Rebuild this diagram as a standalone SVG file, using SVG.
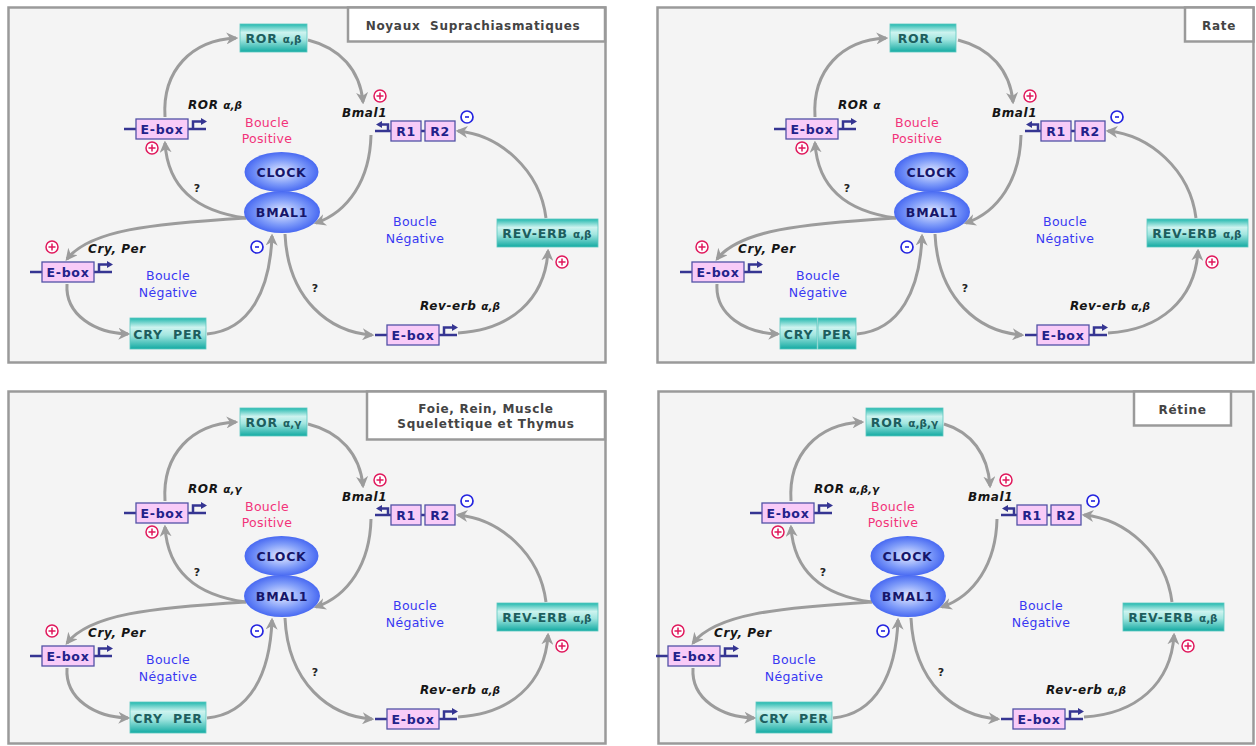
<svg xmlns="http://www.w3.org/2000/svg" xmlns:xlink="http://www.w3.org/1999/xlink" width="1256" height="746" viewBox="0 0 1256 746">
<style>
.frame{fill:#f4f4f4;stroke:#9a9a9a;stroke-width:2.5}
.tbox{fill:#ffffff;stroke:#9a9a9a;stroke-width:2.5}
.ttl{font-family:"DejaVu Sans",Verdana,sans-serif;font-weight:bold;font-size:12px;fill:#444;text-anchor:middle;letter-spacing:0.7px}
.teal{fill:url(#tealG);stroke:#5cc8c0;stroke-width:0.8}
.tt{font-family:"DejaVu Sans",Verdana,sans-serif;font-weight:bold;font-size:12.5px;fill:#1d5e5e;text-anchor:middle;letter-spacing:0.8px}
.eb{fill:#f8cbf8;stroke:#5252a6;stroke-width:1.3}
.gl{stroke:#353592;stroke-width:2.5;fill:none}
.et{font-family:"DejaVu Sans",Verdana,sans-serif;font-weight:bold;font-size:12.5px;fill:#22228a;text-anchor:middle;letter-spacing:0.7px}
.ell{fill:url(#blueG)}
.ct{font-family:"DejaVu Sans",Verdana,sans-serif;font-weight:bold;font-size:12.5px;fill:#16166a;text-anchor:middle;letter-spacing:0.8px}
.lab{font-family:"DejaVu Sans",Verdana,sans-serif;font-weight:bold;font-style:italic;font-size:12px;fill:#151515;letter-spacing:0.6px}
.gk{font-size:10.5px;letter-spacing:0}
.bp{font-family:"DejaVu Sans",Verdana,sans-serif;font-size:12.5px;fill:#f2337a;text-anchor:middle;letter-spacing:0.3px}
.bn{font-family:"DejaVu Sans",Verdana,sans-serif;font-size:12.5px;fill:#3838f2;text-anchor:middle;letter-spacing:0.3px}
.q{font-family:"DejaVu Sans",Verdana,sans-serif;font-weight:bold;font-size:11px;fill:#222;text-anchor:middle}
.arr{fill:none;stroke:#9c9c9c;stroke-width:3;marker-end:url(#ah)}
</style>
<defs>
<linearGradient id="tealG" x1="0" y1="0" x2="0" y2="1">
<stop offset="0" stop-color="#22b8ae"/>
<stop offset="0.3" stop-color="#cdf3ef"/>
<stop offset="0.55" stop-color="#a2e6e0"/>
<stop offset="1" stop-color="#13aaa2"/>
</linearGradient>
<radialGradient id="blueG" cx="0.5" cy="0.5" r="0.55">
<stop offset="0" stop-color="#e4eaff"/>
<stop offset="0.55" stop-color="#7f9cf9"/>
<stop offset="1" stop-color="#3a5cf0"/>
</radialGradient>
<marker id="ah" markerWidth="12" markerHeight="12" refX="8" refY="5" orient="auto" markerUnits="userSpaceOnUse" viewBox="0 0 10 10">
<path d="M0,0 L10,5 L0,10 L3,5 z" fill="#9c9c9c"/>
</marker>
<g id="ebox">
<line class="gl" x1="-12" y1="10" x2="0" y2="10"/>
<line class="gl" x1="52" y1="10" x2="70" y2="10"/>
<polyline class="gl" points="57,10 57,2.5 66,2.5"/>
<path d="M65,-1 L71,2.5 L65,6 z" fill="#353592"/>
<rect class="eb" x="0" y="0" width="52" height="20"/>
</g>
<g id="plus">
<circle cx="0" cy="0" r="6" fill="#fff" stroke="#e0185c" stroke-width="1.5"/>
<path d="M-3.5,0 H3.5 M0,-3.5 V3.5" stroke="#e0185c" stroke-width="1.5"/>
</g>
<g id="minus">
<circle cx="0" cy="0" r="6" fill="#fff" stroke="#2424e0" stroke-width="1.7"/>
<path d="M-2,0 H2" stroke="#2424e0" stroke-width="1.6"/>
</g>
</defs>
<rect x="0" y="0" width="1256" height="746" fill="#ffffff"/>
<g id="frames">
<rect class="frame" x="8.5" y="7.5" width="597" height="355"/>
<rect class="frame" x="657.5" y="7.5" width="596" height="355"/>
<rect class="frame" x="8.5" y="391.5" width="597" height="352"/>
<rect class="frame" x="658.5" y="391.5" width="595" height="352"/>
</g>

<!-- PANEL 1 -->
<g id="panel1">
<g id="p1-connectors">
<path class="arr" d="M165,117 C162,70 192,40 236,38"/>
<path class="arr" d="M308,40 C340,48 360,70 363,102"/>
<path class="arr" d="M371,135 C370,180 348,212 316,223"/>
<path class="arr" d="M246,218 C200,212 168,190 165,143"/>
<path class="arr" d="M246,218 C150,224 90,230 67,259"/>
<path class="arr" d="M67,284 C65,315 95,333 128,334"/>
<path class="arr" d="M207,334 C250,330 270,290 272,236"/>
<path class="arr" d="M285,234 C288,300 330,332 372,335"/>
<path class="arr" d="M458,333 C510,330 545,300 548,251"/>
<path class="arr" d="M546,218 C540,170 500,135 458,131"/>
</g>
<g id="p1-title"><rect class="tbox" x="348" y="7.5" width="257" height="34"/><text class="ttl" x="473" y="30">Noyaux&#160; Suprachiasmatiques</text></g>
<g id="p1-ror"><rect class="teal" x="240" y="24" width="67" height="28"/><text class="tt" x="273.5" y="42.5">ROR <tspan class="gk">α,β</tspan></text></g>
<g id="p1-ebox-ror"><use xlink:href="#ebox" x="136" y="119"/><text class="et" x="162" y="133.5">E-box</text></g>
<g id="p1-ebox-cry"><use xlink:href="#ebox" x="42" y="262"/><text class="et" x="68" y="276.5">E-box</text></g>
<g id="p1-ebox-rev"><use xlink:href="#ebox" x="387" y="325"/><text class="et" x="413" y="339.5">E-box</text></g>
<g id="p1-r1r2">
<line class="gl" x1="375" y1="131" x2="391" y2="131"/>
<polyline class="gl" points="388,131 388,124.5 381,124.5"/>
<path d="M382,121 L376,124.5 L382,128 z" fill="#353592"/>
<line class="gl" x1="421" y1="131" x2="425" y2="131"/>
<rect class="eb" x="391" y="121" width="30" height="20"/><text class="et" x="406" y="135.5">R1</text>
<rect class="eb" x="425" y="121" width="30" height="20"/><text class="et" x="440" y="135.5">R2</text>
</g>
<g id="p1-clock"><ellipse class="ell" cx="281.5" cy="172" rx="37" ry="20"/><text class="ct" x="281.5" y="176.5">CLOCK</text></g>
<g id="p1-bmal1"><ellipse class="ell" cx="282" cy="212" rx="38" ry="21"/><text class="ct" x="282" y="216.5">BMAL1</text></g>
<g id="p1-cryper"><rect class="teal" x="130" y="318" width="76" height="31"/><text class="tt" x="168" y="338.5">CRY&#160; PER</text></g>
<g id="p1-reverb"><rect class="teal" x="497" y="219" width="101" height="28"/><text class="tt" x="547" y="237.5">REV-ERB <tspan class="gk">α,β</tspan></text></g>
<g id="p1-labels">
<text class="lab" x="188" y="109">ROR <tspan class="gk">α,β</tspan></text>
<text class="lab" x="342" y="117">Bmal1</text>
<text class="lab" x="88" y="253">Cry, Per</text>
<text class="lab" x="420" y="310">Rev-erb <tspan class="gk">α,β</tspan></text>
<text class="bp" x="267" y="127">Boucle</text><text class="bp" x="267" y="143">Positive</text>
<text class="bn" x="168" y="280">Boucle</text><text class="bn" x="168" y="297">Négative</text>
<text class="bn" x="415" y="226">Boucle</text><text class="bn" x="415" y="243">Négative</text>
<text class="q" x="197" y="192">?</text>
<text class="q" x="315" y="292">?</text>
</g>
<g id="p1-signs">
<use xlink:href="#plus" x="152" y="148"/>
<use xlink:href="#plus" x="380" y="96"/>
<use xlink:href="#plus" x="52" y="247"/>
<use xlink:href="#plus" x="562" y="262"/>
<use xlink:href="#minus" x="467" y="117"/>
<use xlink:href="#minus" x="257" y="247"/>
</g>
</g>

<!-- PANEL 2 -->
<g id="panel2" transform="translate(650,0)">
<g id="p2-connectors">
<path class="arr" d="M165,117 C162,70 192,40 236,38"/>
<path class="arr" d="M308,40 C340,48 360,70 363,102"/>
<path class="arr" d="M371,135 C370,180 348,212 316,223"/>
<path class="arr" d="M246,218 C200,212 168,190 165,143"/>
<path class="arr" d="M246,218 C150,224 90,230 67,259"/>
<path class="arr" d="M67,284 C65,315 95,333 128,334"/>
<path class="arr" d="M207,334 C250,330 270,290 272,236"/>
<path class="arr" d="M285,234 C288,300 330,332 372,335"/>
<path class="arr" d="M458,333 C510,330 545,300 548,251"/>
<path class="arr" d="M546,218 C540,170 500,135 458,131"/>
</g>
<g id="p2-title"><rect class="tbox" x="535" y="7.5" width="68.5" height="34"/><text class="ttl" x="569" y="29.5">Rate</text></g>
<g id="p2-ror"><rect class="teal" x="240" y="24" width="66" height="28"/><text class="tt" x="270" y="42.5">ROR <tspan class="gk">α</tspan></text></g>
<g id="p2-ebox-ror"><use xlink:href="#ebox" x="136" y="119"/><text class="et" x="162" y="133.5">E-box</text></g>
<g id="p2-ebox-cry"><use xlink:href="#ebox" x="42" y="262"/><text class="et" x="68" y="276.5">E-box</text></g>
<g id="p2-ebox-rev"><use xlink:href="#ebox" x="387" y="325"/><text class="et" x="413" y="339.5">E-box</text></g>
<g id="p2-r1r2">
<line class="gl" x1="375" y1="131" x2="391" y2="131"/>
<polyline class="gl" points="388,131 388,124.5 381,124.5"/>
<path d="M382,121 L376,124.5 L382,128 z" fill="#353592"/>
<line class="gl" x1="421" y1="131" x2="425" y2="131"/>
<rect class="eb" x="391" y="121" width="30" height="20"/><text class="et" x="406" y="135.5">R1</text>
<rect class="eb" x="425" y="121" width="30" height="20"/><text class="et" x="440" y="135.5">R2</text>
</g>
<g id="p2-clock"><ellipse class="ell" cx="281.5" cy="172" rx="37" ry="20"/><text class="ct" x="281.5" y="176.5">CLOCK</text></g>
<g id="p2-bmal1"><ellipse class="ell" cx="282" cy="212" rx="38" ry="21"/><text class="ct" x="282" y="216.5">BMAL1</text></g>
<g id="p2-cry"><rect class="teal" x="130" y="318" width="37" height="31"/><text class="tt" x="148.5" y="338.5">CRY</text></g>
<g id="p2-per"><rect class="teal" x="168" y="318" width="38" height="31"/><text class="tt" x="187" y="338.5">PER</text></g>
<g id="p2-reverb"><rect class="teal" x="497" y="219" width="101" height="28"/><text class="tt" x="547" y="237.5">REV-ERB <tspan class="gk">α,β</tspan></text></g>
<g id="p2-labels">
<text class="lab" x="188" y="109">ROR <tspan class="gk">α</tspan></text>
<text class="lab" x="342" y="117">Bmal1</text>
<text class="lab" x="88" y="253">Cry, Per</text>
<text class="lab" x="420" y="310">Rev-erb <tspan class="gk">α,β</tspan></text>
<text class="bp" x="267" y="127">Boucle</text><text class="bp" x="267" y="143">Positive</text>
<text class="bn" x="168" y="280">Boucle</text><text class="bn" x="168" y="297">Négative</text>
<text class="bn" x="415" y="226">Boucle</text><text class="bn" x="415" y="243">Négative</text>
<text class="q" x="197" y="192">?</text>
<text class="q" x="315" y="292">?</text>
</g>
<g id="p2-signs">
<use xlink:href="#plus" x="152" y="148"/>
<use xlink:href="#plus" x="380" y="96"/>
<use xlink:href="#plus" x="52" y="247"/>
<use xlink:href="#plus" x="562" y="262"/>
<use xlink:href="#minus" x="467" y="117"/>
<use xlink:href="#minus" x="257" y="247"/>
</g>
</g>

<!-- PANEL 3 -->
<g id="panel3" transform="translate(0,384)">
<g id="p3-connectors">
<path class="arr" d="M165,117 C162,70 192,40 236,38"/>
<path class="arr" d="M308,40 C340,48 360,70 363,102"/>
<path class="arr" d="M371,135 C370,180 348,212 316,223"/>
<path class="arr" d="M246,218 C200,212 168,190 165,143"/>
<path class="arr" d="M246,218 C150,224 90,230 67,259"/>
<path class="arr" d="M67,284 C65,315 95,333 128,334"/>
<path class="arr" d="M207,334 C250,330 270,290 272,236"/>
<path class="arr" d="M285,234 C288,300 330,332 372,335"/>
<path class="arr" d="M458,333 C510,330 545,300 548,251"/>
<path class="arr" d="M546,218 C540,170 500,135 458,131"/>
</g>
<g id="p3-title"><rect class="tbox" x="367" y="7.5" width="238" height="48"/><text class="ttl" x="486" y="29">Foie, Rein, Muscle</text><text class="ttl" x="486" y="44">Squelettique et Thymus</text></g>
<g id="p3-ror"><rect class="teal" x="240" y="24" width="67" height="28"/><text class="tt" x="273.5" y="42.5">ROR <tspan class="gk">α,γ</tspan></text></g>
<g id="p3-ebox-ror"><use xlink:href="#ebox" x="136" y="119"/><text class="et" x="162" y="133.5">E-box</text></g>
<g id="p3-ebox-cry"><use xlink:href="#ebox" x="42" y="262"/><text class="et" x="68" y="276.5">E-box</text></g>
<g id="p3-ebox-rev"><use xlink:href="#ebox" x="387" y="325"/><text class="et" x="413" y="339.5">E-box</text></g>
<g id="p3-r1r2">
<line class="gl" x1="375" y1="131" x2="391" y2="131"/>
<polyline class="gl" points="388,131 388,124.5 381,124.5"/>
<path d="M382,121 L376,124.5 L382,128 z" fill="#353592"/>
<line class="gl" x1="421" y1="131" x2="425" y2="131"/>
<rect class="eb" x="391" y="121" width="30" height="20"/><text class="et" x="406" y="135.5">R1</text>
<rect class="eb" x="425" y="121" width="30" height="20"/><text class="et" x="440" y="135.5">R2</text>
</g>
<g id="p3-clock"><ellipse class="ell" cx="281.5" cy="172" rx="37" ry="20"/><text class="ct" x="281.5" y="176.5">CLOCK</text></g>
<g id="p3-bmal1"><ellipse class="ell" cx="282" cy="212" rx="38" ry="21"/><text class="ct" x="282" y="216.5">BMAL1</text></g>
<g id="p3-cryper"><rect class="teal" x="130" y="318" width="76" height="31"/><text class="tt" x="168" y="338.5">CRY&#160; PER</text></g>
<g id="p3-reverb"><rect class="teal" x="497" y="219" width="101" height="28"/><text class="tt" x="547" y="237.5">REV-ERB <tspan class="gk">α,β</tspan></text></g>
<g id="p3-labels">
<text class="lab" x="188" y="109">ROR <tspan class="gk">α,γ</tspan></text>
<text class="lab" x="342" y="117">Bmal1</text>
<text class="lab" x="88" y="253">Cry, Per</text>
<text class="lab" x="420" y="310">Rev-erb <tspan class="gk">α,β</tspan></text>
<text class="bp" x="267" y="127">Boucle</text><text class="bp" x="267" y="143">Positive</text>
<text class="bn" x="168" y="280">Boucle</text><text class="bn" x="168" y="297">Négative</text>
<text class="bn" x="415" y="226">Boucle</text><text class="bn" x="415" y="243">Négative</text>
<text class="q" x="197" y="192">?</text>
<text class="q" x="315" y="292">?</text>
</g>
<g id="p3-signs">
<use xlink:href="#plus" x="152" y="148"/>
<use xlink:href="#plus" x="380" y="96"/>
<use xlink:href="#plus" x="52" y="247"/>
<use xlink:href="#plus" x="562" y="262"/>
<use xlink:href="#minus" x="467" y="117"/>
<use xlink:href="#minus" x="257" y="247"/>
</g>
</g>

<!-- PANEL 4 -->
<g id="panel4" transform="translate(626,384)">
<g id="p4-connectors">
<path class="arr" d="M165,117 C162,70 192,40 236,38"/>
<path class="arr" d="M318,40 C345,48 362,70 364,102"/>
<path class="arr" d="M371,135 C370,180 348,212 316,223"/>
<path class="arr" d="M246,218 C200,212 168,190 165,143"/>
<path class="arr" d="M246,218 C150,224 90,230 67,259"/>
<path class="arr" d="M67,284 C65,315 95,333 128,334"/>
<path class="arr" d="M207,334 C250,330 270,290 272,236"/>
<path class="arr" d="M285,234 C288,300 330,332 372,335"/>
<path class="arr" d="M458,333 C510,330 545,300 548,251"/>
<path class="arr" d="M546,218 C540,170 500,135 458,131"/>
</g>
<g id="p4-title"><rect class="tbox" x="508" y="7.5" width="97" height="34"/><text class="ttl" x="556.5" y="29.5">Rétine</text></g>
<g id="p4-ror"><rect class="teal" x="240" y="24" width="77" height="28"/><text class="tt" x="278.5" y="42.5">ROR <tspan class="gk">α,β,γ</tspan></text></g>
<g id="p4-ebox-ror"><use xlink:href="#ebox" x="136" y="119"/><text class="et" x="162" y="133.5">E-box</text></g>
<g id="p4-ebox-cry"><use xlink:href="#ebox" x="42" y="262"/><text class="et" x="68" y="276.5">E-box</text></g>
<g id="p4-ebox-rev"><use xlink:href="#ebox" x="387" y="325"/><text class="et" x="413" y="339.5">E-box</text></g>
<g id="p4-r1r2">
<line class="gl" x1="375" y1="131" x2="391" y2="131"/>
<polyline class="gl" points="388,131 388,124.5 381,124.5"/>
<path d="M382,121 L376,124.5 L382,128 z" fill="#353592"/>
<line class="gl" x1="421" y1="131" x2="425" y2="131"/>
<rect class="eb" x="391" y="121" width="30" height="20"/><text class="et" x="406" y="135.5">R1</text>
<rect class="eb" x="425" y="121" width="30" height="20"/><text class="et" x="440" y="135.5">R2</text>
</g>
<g id="p4-clock"><ellipse class="ell" cx="281.5" cy="172" rx="37" ry="20"/><text class="ct" x="281.5" y="176.5">CLOCK</text></g>
<g id="p4-bmal1"><ellipse class="ell" cx="282" cy="212" rx="38" ry="21"/><text class="ct" x="282" y="216.5">BMAL1</text></g>
<g id="p4-cryper"><rect class="teal" x="130" y="318" width="76" height="31"/><text class="tt" x="168" y="338.5">CRY&#160; PER</text></g>
<g id="p4-reverb"><rect class="teal" x="497" y="219" width="101" height="28"/><text class="tt" x="547" y="237.5">REV-ERB <tspan class="gk">α,β</tspan></text></g>
<g id="p4-labels">
<text class="lab" x="188" y="109">ROR <tspan class="gk">α,β,γ</tspan></text>
<text class="lab" x="342" y="117">Bmal1</text>
<text class="lab" x="88" y="253">Cry, Per</text>
<text class="lab" x="420" y="310">Rev-erb <tspan class="gk">α,β</tspan></text>
<text class="bp" x="267" y="127">Boucle</text><text class="bp" x="267" y="143">Positive</text>
<text class="bn" x="168" y="280">Boucle</text><text class="bn" x="168" y="297">Négative</text>
<text class="bn" x="415" y="226">Boucle</text><text class="bn" x="415" y="243">Négative</text>
<text class="q" x="197" y="192">?</text>
<text class="q" x="315" y="292">?</text>
</g>
<g id="p4-signs">
<use xlink:href="#plus" x="152" y="148"/>
<use xlink:href="#plus" x="380" y="96"/>
<use xlink:href="#plus" x="52" y="247"/>
<use xlink:href="#plus" x="562" y="262"/>
<use xlink:href="#minus" x="467" y="117"/>
<use xlink:href="#minus" x="257" y="247"/>
</g>
</g>
</svg>
